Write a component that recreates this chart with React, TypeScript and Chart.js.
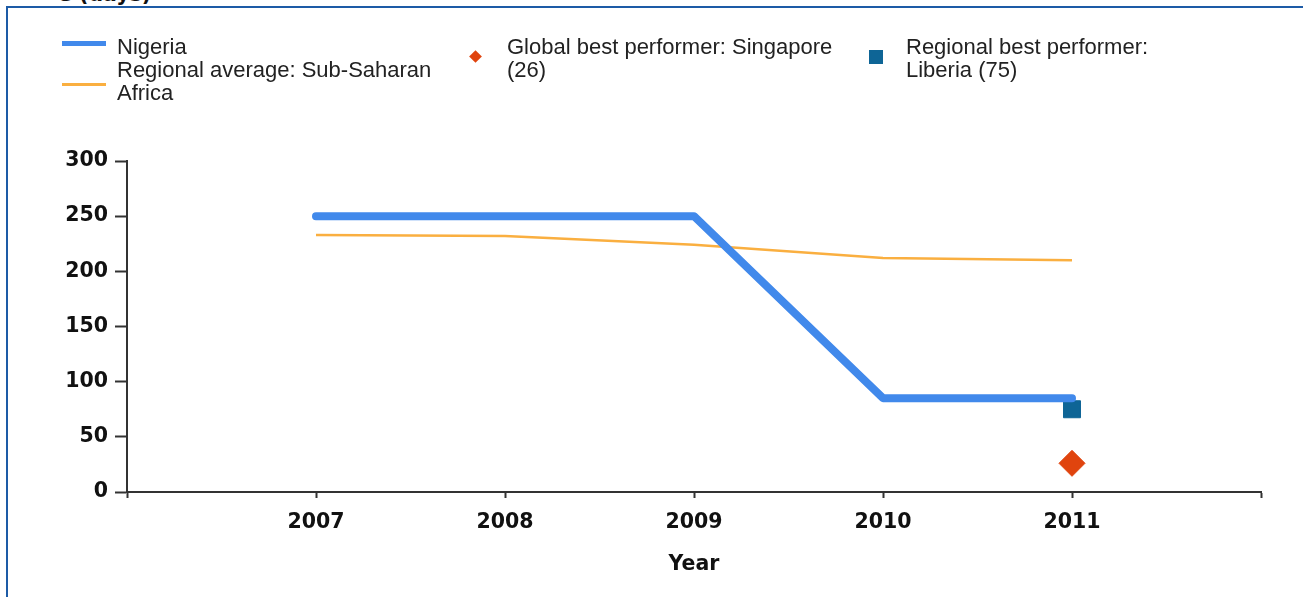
import React, { useEffect, useRef } from "react";
import { Chart, registerables } from "chart.js";

Chart.register(...registerables);

const years = [2007, 2008, 2009, 2010, 2011];
const nigeria = [250, 250, 250, 85, 85];
const regionalAvg = [233, 232, 224, 212, 210];
const globalBestYear = 2011;
const globalBest = 26;
const regionalBestYear = 2011;
const regionalBest = 75;
const yTicks = [0, 50, 100, 150, 200, 250, 300];

const BLUE = "#4189EB";
const ORANGE = "#FAAF40";
const SQUARE = "#0E6596";
const DIAMOND = "#E0440E";
const AXIS = "#333333";

const legendFont = "'Liberation Sans', Arial, sans-serif";
const boldFont = "'DejaVu Sans', Verdana, sans-serif";

export default function App() {
  const ref = useRef<HTMLCanvasElement | null>(null);

  useEffect(() => {
    if (!ref.current) return;
    const chart = new Chart(ref.current, {
      type: "line",
      data: {
        datasets: [
          {
            label: "Nigeria",
            data: years.map((x, i) => ({ x, y: nigeria[i] })),
            borderColor: BLUE,
            backgroundColor: BLUE,
            borderWidth: 8,
            pointRadius: 0,
            tension: 0,
            borderCapStyle: "round",
            borderJoinStyle: "round",
          },
          {
            label: "Regional average: Sub-Saharan Africa",
            data: years.map((x, i) => ({ x, y: regionalAvg[i] })),
            borderColor: ORANGE,
            backgroundColor: ORANGE,
            borderWidth: 2.5,
            pointRadius: 0,
            tension: 0,
          },
          {
            label: "Global best performer: Singapore (26)",
            data: [{ x: globalBestYear, y: globalBest }],
            showLine: false,
            pointStyle: "rectRot",
            pointRadius: 13,
            pointBackgroundColor: DIAMOND,
            pointBorderColor: DIAMOND,
            pointBorderWidth: 1,
          },
          {
            label: "Regional best performer: Liberia (75)",
            data: [{ x: regionalBestYear, y: regionalBest }],
            showLine: false,
            pointStyle: "rect",
            pointRadius: 12,
            pointBackgroundColor: SQUARE,
            pointBorderColor: SQUARE,
            pointBorderWidth: 1,
          },
        ],
      },
      options: {
        responsive: false,
        animation: false,
        layout: { padding: { left: 0, top: 161, right: 42, bottom: 20 } },
        plugins: { legend: { display: false }, tooltip: { enabled: false } },
        scales: {
          x: {
            type: "linear",
            min: years[0] - 1,
            max: years[years.length - 1] + 1,
            afterFit: (s: any) => {
              s.height = 85;
            },
            ticks: {
              stepSize: 1,
              autoSkip: false,
              maxRotation: 0,
              padding: 12,
              color: "#111",
              font: { family: boldFont, size: 20.5, weight: "bold" },
              callback: (v: any) => (years.includes(Number(v)) ? String(v) : ""),
            },
            grid: {
              drawOnChartArea: false,
              drawTicks: true,
              tickLength: 6,
              tickColor: AXIS,
              tickWidth: 2,
            },
            border: { display: true, color: AXIS, width: 2 },
            title: {
              display: true,
              text: "Year",
              color: "#111",
              padding: 0,
              font: { family: boldFont, size: 20.5, weight: "bold" },
            },
          },
          y: {
            min: 0,
            max: 300,
            afterFit: (s: any) => {
              s.width = 127;
            },
            afterBuildTicks: (s: any) => {
              s.ticks = yTicks.map((v) => ({ value: v }));
            },
            ticks: {
              padding: 7,
              color: "#111",
              font: { family: boldFont, size: 20.5, weight: "bold" },
            },
            grid: {
              drawOnChartArea: false,
              drawTicks: true,
              tickLength: 12,
              tickColor: AXIS,
              tickWidth: 2,
            },
            border: { display: true, color: AXIS, width: 2 },
          },
        },
      },
    } as any);
    return () => chart.destroy();
  }, []);

  const textStyle: React.CSSProperties = {
    position: "absolute",
    fontFamily: legendFont,
    fontSize: 22,
    lineHeight: "23px",
    color: "#222",
    whiteSpace: "nowrap",
  };

  return (
    <div
      style={{
        position: "absolute",
        left: 0,
        top: 0,
        width: 1303,
        height: 597,
        overflow: "hidden",
        background: "#fff",
      }}
    >
      <div
        style={{
          position: "absolute",
          left: 58,
          top: -17,
          fontFamily: boldFont,
          fontWeight: "bold",
          fontSize: 20.5,
          lineHeight: "22px",
          color: "#111",
          whiteSpace: "nowrap",
        }}
      >
        e (days)
      </div>
      <div
        style={{
          position: "absolute",
          left: 6,
          top: 6,
          width: 1400,
          height: 700,
          borderLeft: "2px solid #1D5BA6",
          borderTop: "2px solid #1D5BA6",
        }}
      />
      <canvas
        ref={ref}
        width={1303}
        height={597}
        style={{ position: "absolute", left: 0, top: 0, width: 1303, height: 597 }}
      />
      {/* legend */}
      <div style={{ position: "absolute", left: 62, top: 41, width: 44, height: 5, background: BLUE }} />
      <div style={{ ...textStyle, left: 117, top: 35 }}>Nigeria</div>
      <div style={{ position: "absolute", left: 62, top: 83, width: 44, height: 3, background: ORANGE }} />
      <div style={{ ...textStyle, left: 117, top: 58 }}>
        Regional average: Sub-Saharan
        <br />
        Africa
      </div>
      <div
        style={{
          position: "absolute",
          left: 471,
          top: 52,
          width: 9,
          height: 9,
          background: DIAMOND,
          transform: "rotate(45deg)",
        }}
      />
      <div style={{ ...textStyle, left: 507, top: 35 }}>
        Global best performer: Singapore
        <br />
        (26)
      </div>
      <div style={{ position: "absolute", left: 869, top: 50, width: 14, height: 14, background: SQUARE }} />
      <div style={{ ...textStyle, left: 906, top: 35 }}>
        Regional best performer:
        <br />
        Liberia (75)
      </div>
    </div>
  );
}
